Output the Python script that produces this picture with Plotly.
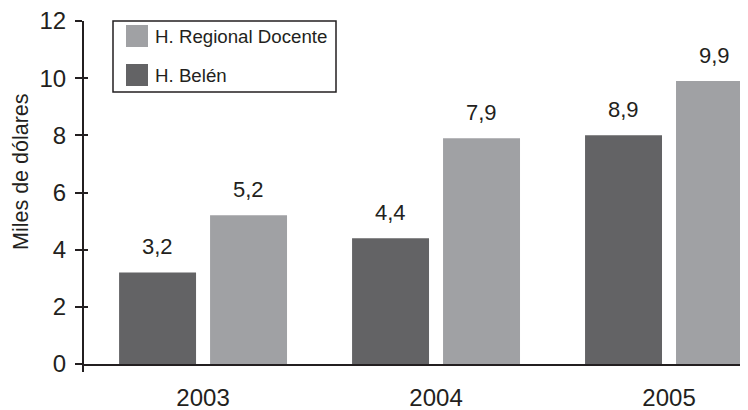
import plotly.graph_objects as go

years = ["2003", "2004", "2005"]
belen = [3.2, 4.4, 8.0]
belen_labels = ["3,2", "4,4", "8,9"]
regional = [5.2, 7.9, 9.9]
regional_labels = ["5,2", "7,9", "9,9"]
y_ticks = [0, 2, 4, 6, 8, 10, 12]

DARK = "#636365"
LIGHT = "#a0a1a4"
INK = "#231f20"
FONT = "Arial, Liberation Sans, sans-serif"

# the page body adds an 8px offset; size the figure to fill the rest of the window
OFF = 8
W, H = 748 - OFF, 410 - OFF
L, T, B = 84 - OFF, 21 - OFF, 46
PW, PH = W - L, H - T - B

def px(x):
    return (x - OFF - L) / PW

def py(y):
    return (H - B - (y - OFF)) / PH

bargap = 0.219
bargroupgap = 0.154
slot = (1 - bargap) / 2

fig = go.Figure()
fig.add_trace(go.Bar(x=years, y=belen, name="H. Belén", marker_color=DARK, marker_line_width=0))
fig.add_trace(go.Bar(x=years, y=regional, name="H. Regional Docente", marker_color=LIGHT, marker_line_width=0))
fig.add_trace(go.Scatter(x=[], y=[], yaxis="y2", showlegend=False))

annotations = []
for i in range(len(years)):
    annotations.append(dict(x=i - slot / 2, y=belen[i], xref="x", yref="y", text=belen_labels[i],
                            showarrow=False, yshift=26, yanchor="middle",
                            font=dict(size=22, color=INK, family=FONT)))
    annotations.append(dict(x=i + slot / 2, y=regional[i], xref="x", yref="y", text=regional_labels[i],
                            showarrow=False, yshift=26, yanchor="middle",
                            font=dict(size=22, color=INK, family=FONT)))

# y-axis title
annotations.append(dict(x=px(21), y=py(172), xref="paper", yref="paper", text="Miles de dólares",
                        textangle=-90, showarrow=False, xanchor="center", yanchor="middle",
                        font=dict(size=21.5, color=INK, family=FONT)))

# legend text
annotations.append(dict(x=px(153), y=py(36), xref="paper", yref="paper", text="H. Regional Docente",
                        showarrow=False, xanchor="left", yanchor="middle",
                        font=dict(size=18.7, color=INK, family=FONT)))
annotations.append(dict(x=px(153), y=py(75), xref="paper", yref="paper", text="H. Belén",
                        showarrow=False, xanchor="left", yanchor="middle",
                        font=dict(size=18.7, color=INK, family=FONT)))

shapes = [
    dict(type="rect", xref="paper", yref="paper", x0=px(113), x1=px(336), y0=py(92), y1=py(21),
         line=dict(color=INK, width=1.5), fillcolor="white", layer="above"),
    dict(type="rect", xref="paper", yref="paper", x0=px(126), x1=px(148), y0=py(47), y1=py(25),
         line=dict(width=0), fillcolor=LIGHT, layer="above"),
    dict(type="rect", xref="paper", yref="paper", x0=px(126), x1=px(148), y0=py(86), y1=py(64),
         line=dict(width=0), fillcolor=DARK, layer="above"),
    dict(type="line", xref="paper", yref="paper", x0=px(83), x1=px(83), y0=py(364), y1=py(372),
         line=dict(color=INK, width=2)),
]

fig.update_layout(
    width=W, height=H,
    margin=dict(l=L, r=0, t=T, b=B, pad=0, autoexpand=False),
    paper_bgcolor="white", plot_bgcolor="white",
    barmode="group", bargap=bargap, bargroupgap=bargroupgap,
    showlegend=False,
    font=dict(family=FONT, color=INK),
    xaxis=dict(type="category", range=[-0.511, 2.339], showgrid=False, zeroline=False,
               automargin=False, ticklabeloverflow="allow",
               showline=True, linecolor=INK, linewidth=2, ticks="", ticklabelstandoff=11,
               tickfont=dict(size=24, color=INK, family=FONT)),
    yaxis=dict(range=[0, 12], tickvals=y_ticks, showgrid=False, zeroline=False,
               automargin=False, ticklabeloverflow="allow",
               showline=True, linecolor=INK, linewidth=2, ticks="outside", ticklen=7,
               tickwidth=2, tickcolor=INK, ticklabelstandoff=4,
               tickfont=dict(size=24, color=INK, family=FONT)),
    yaxis2=dict(range=[0, 12], tickvals=y_ticks, overlaying="y", side="left", showgrid=False,
                automargin=False,
                zeroline=False, showline=False, ticks="inside", ticklen=4, tickwidth=2,
                tickcolor=INK, showticklabels=False),
    annotations=annotations,
    shapes=shapes,
)

fig.write_html("out.html")
